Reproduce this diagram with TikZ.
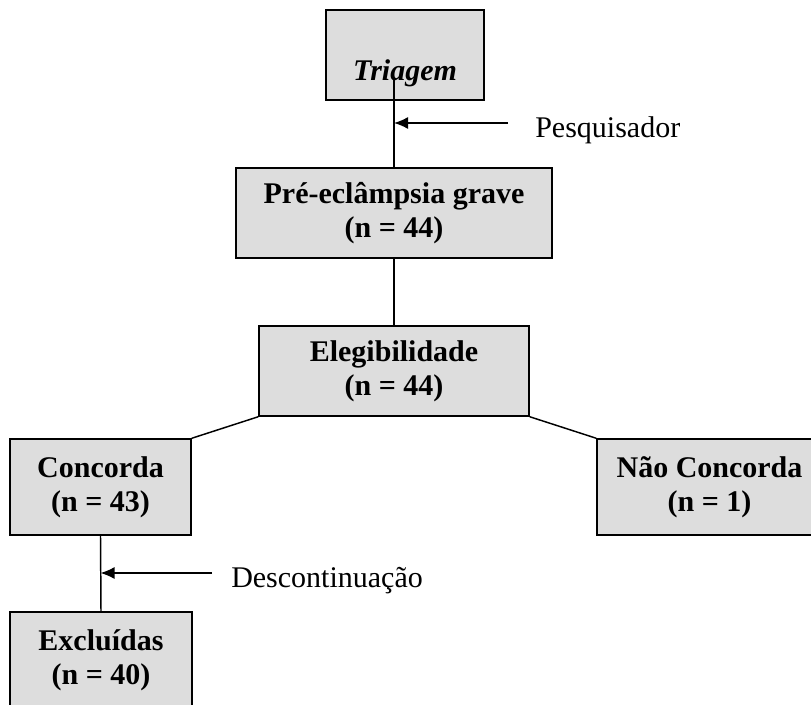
\documentclass[tikz,border=0pt]{standalone}
\usepackage{fontspec}
\setmainfont{Liberation Serif}
\usetikzlibrary{arrows.meta}
\definecolor{cinza}{RGB}{221,221,221}
\tikzset{
  caixa/.style={draw,line width=1.1pt,fill=cinza,inner sep=0pt,align=center,
    font=\fontsize{22.5pt}{25.5pt}\selectfont\bfseries},
  rotulo/.style={anchor=base west,inner sep=0pt,font=\fontsize{22.5pt}{25.5pt}\selectfont},
  ligacao/.style={line width=1.1pt},
}
\begin{document}
\begin{tikzpicture}[x=0.75pt,y=-0.75pt]
\useasboundingbox(0,0)rectangle(811,704);
\clip(0,0)rectangle(811,704);
\node[caixa,minimum width=118.5pt,minimum height=67.5pt](tri) at(405,55){\strut\\\textit{Triagem}};
\node[caixa,minimum width=237pt,minimum height=67.5pt](pre) at(394,213){Pré-eclâmpsia grave\\(n = 44)};
\node[caixa,minimum width=202.5pt,minimum height=67.5pt](ele) at(394,371){Elegibilidade\\(n = 44)};
\node[caixa,minimum width=135.75pt,minimum height=72pt](con) at(100.5,487){Concorda\\(n = 43)};
\node[caixa,minimum width=168.75pt,minimum height=72pt](nao) at(709.5,487){Não Concorda\\(n = 1)};
\node[caixa,minimum width=136.5pt,minimum height=72pt](exc) at(101,660){Excluídas\\(n = 40)};
\coordinate(triBase) at(394,80);
\draw[ligacao](triBase)--(pre.north);
\draw[ligacao](pre.south)--(ele.north);
\draw[ligacao](ele.south west)--(con.north east);
\draw[ligacao](ele.south east)--(nao.north west);
\draw[ligacao](con.south)--(exc.north);
\coordinate(pesq) at(508,123);
\draw[ligacao,->,>={Latex[length=10.5pt,width=9pt]}](pesq)--(pesq-|pre.north);
\node[rotulo](pesqTxt) at(535,137){Pesquisador};
\coordinate(desc) at(212,573);
\draw[ligacao,->,>={Latex[length=10.5pt,width=9pt]}](desc)--(desc-|con.south);
\node[rotulo](descTxt) at(231,587){Descontinuação};
\end{tikzpicture}
\end{document}
